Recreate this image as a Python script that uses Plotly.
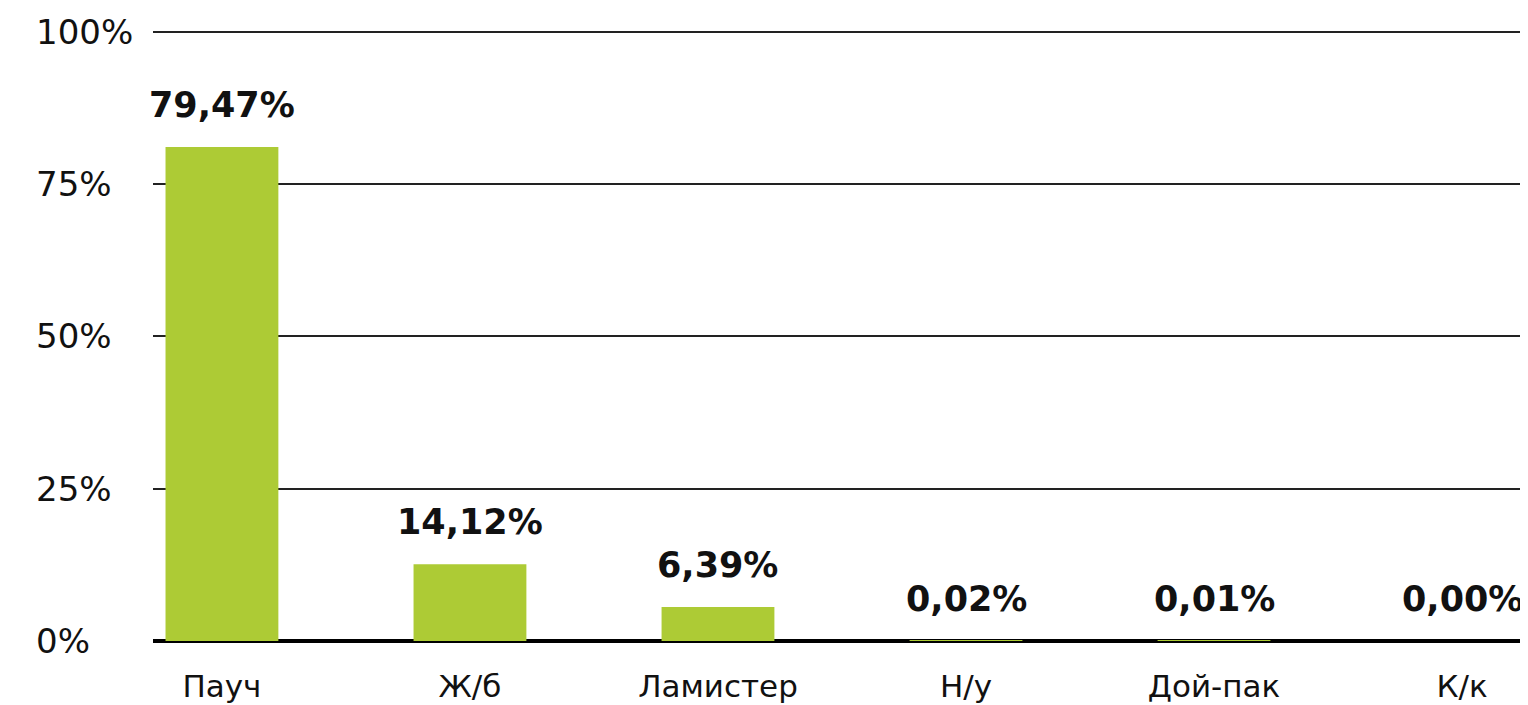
import plotly.graph_objects as go

categories = ["Пауч", "Ж/б", "Ламистер", "Н/у", "Дой-пак", "К/к"]
bar_heights = [81.1, 12.6, 5.6, 0.02, 0.01, 0.0]
value_labels = ["79,47%", "14,12%", "6,39%", "0,02%", "0,01%", "0,00%"]
y_ticks = [0, 25, 50, 75, 100]
y_tick_labels = ["0%", "25%", "50%", "75%", "100%"]

BAR = "#ADCB35"
FONT = "DejaVu Sans"

fig = go.Figure()
fig.add_trace(go.Bar(
    x=categories, y=bar_heights, marker=dict(color=BAR, line=dict(width=0)),
    width=0.455, hoverinfo="skip",
))

annotations = []
for c, v, t in zip(categories, bar_heights, value_labels):
    annotations.append(dict(
        x=c, y=v, xref="x", yref="y", text=f"<b>{t}</b>", showarrow=False,
        xanchor="center", yanchor="bottom", yshift=20,
        font=dict(family=FONT, size=35, color="#111111"),
    ))
for tv, tl in zip(y_ticks, y_tick_labels):
    annotations.append(dict(
        x=-0.0865, y=tv, xref="paper", yref="y", text=tl, showarrow=False,
        xanchor="left", yanchor="middle",
        font=dict(family=FONT, size=34, color="#111111"),
    ))

fig.update_layout(
    width=1520, height=697,
    margin=dict(l=145, r=0, t=22, b=64),
    paper_bgcolor="white", plot_bgcolor="white",
    showlegend=False,
    annotations=annotations,
    xaxis=dict(
        type="category", range=[-0.278, 5.266], showgrid=False,
        showline=False, ticks="", zeroline=False, automargin=False,
        ticklabelstandoff=24,
        tickfont=dict(family=FONT, size=31, color="#111111"),
    ),
    yaxis=dict(
        range=[0, 100.3], tickvals=y_ticks, showticklabels=False,
        showgrid=True, gridcolor="#222222", gridwidth=2, automargin=False,
        zeroline=True, zerolinecolor="#000000", zerolinewidth=4,
        showline=False, ticks="",
    ),
)

fig.write_html("out.html")
